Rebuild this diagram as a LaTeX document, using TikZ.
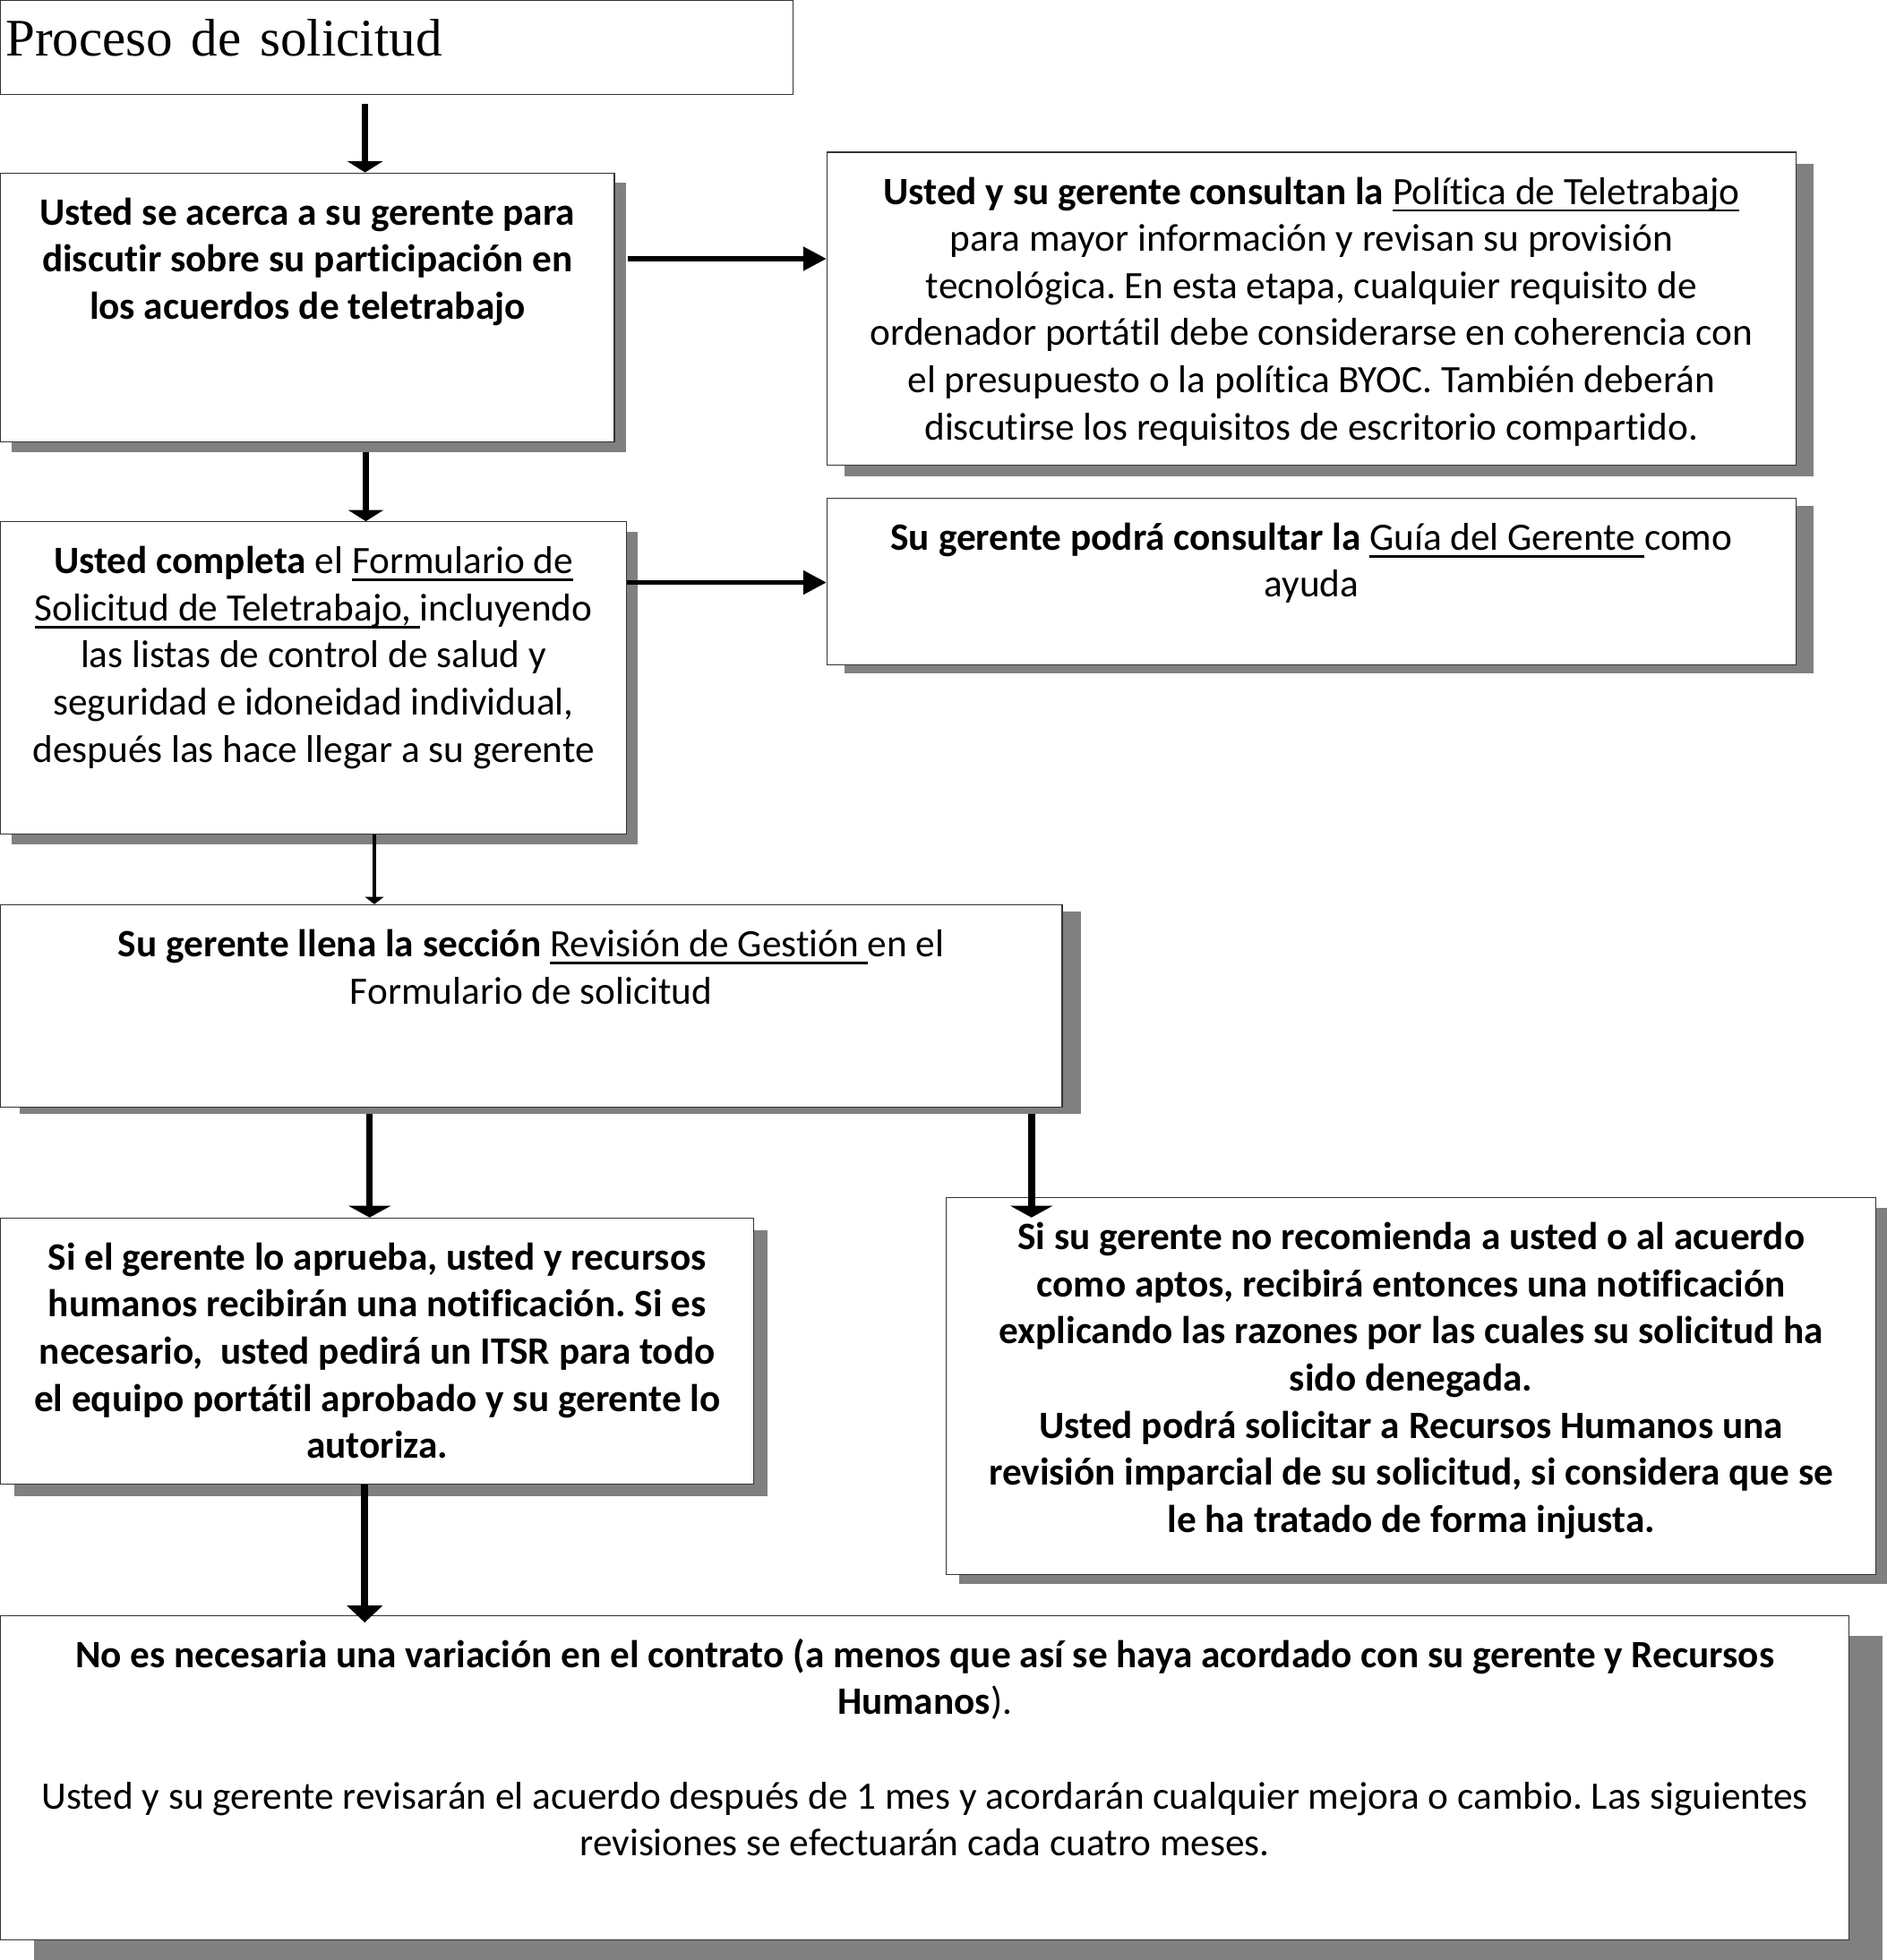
\documentclass[tikz,border=0pt]{standalone}
\usepackage{fontspec}
\setmainfont{Carlito}[Ligatures={NoCommon}]
\newfontfamily\titlefont{Liberation Serif}
\usetikzlibrary{arrows.meta,shadows}
\frenchspacing

% texto subrayado (la raya pasa tambien bajo el espacio final)
\newcommand{\subr}[1]{\leavevmode\setbox0\hbox{#1}\rlap{\rule[-6pt]{\wd0}{2pt}}\box0}
% caja de ancho #1 y alto #2, texto centrado arriba
\newcommand{\cajatexto}[3]{\parbox[t][#2][t]{#1}{\centering\rule{0pt}{41.5pt}#3}}

\begin{document}
\begin{tikzpicture}[x=1pt,y=-1pt,
	caja/.style={draw=black!80, line width=0.9pt, fill=white, inner sep=0pt, anchor=north west, font=\fontsize{31pt}{37.7pt}\selectfont},
	sombra/.style 2 args={drop shadow={shadow xshift=#1pt, shadow yshift=-#2pt, fill=black!50, opacity=1}},
	flecha/.style={line width=5.4pt, -{Triangle[width=28pt,length=9pt]}},
	flechaancha/.style={line width=5.4pt, -{Triangle[width=34pt,length=9.5pt]}},
	flechalarga/.style={line width=5.6pt, -{Triangle[width=28pt,length=13.6pt]}},
	flechafina/.style={line width=2.5pt, -{Triangle[width=15pt,length=6pt]}},
	flechalado/.style={line width=3.8pt, -{Triangle[width=18.6pt,length=18.6pt]}}]
	\useasboundingbox (0,0) rectangle (1509,1568);

	\node[caja, line width=0.8pt, font=\titlefont\fontsize{42.3pt}{50pt}\selectfont] (titulo) at (0,0) {\parbox[t][75pt][t]{634pt}{\spaceskip=14.8pt\hspace*{4.2pt}\rule{0pt}{44.2pt}Proceso de solicitud}};

	\node[caja, sombra={9}{8}] (acerca) at (0,138) {\cajatexto{491pt}{215pt}{\bfseries Usted se acerca a su gerente para\\ discutir sobre su participación en\\ los acuerdos de teletrabajo}};
	\node[caja, sombra={14}{9}] (consulta) at (661,121.4) {\cajatexto{775pt}{250.3pt}{\textbf{Usted y su gerente consultan la} \subr{Política de Teletrabajo}\\ para mayor información y revisan su provisión\\ tecnológica. En esta etapa, cualquier requisito de\\ ordenador portátil debe considerarse en coherencia con\\ el presupuesto o la política BYOC. También deberán\\ discutirse los requisitos de escritorio compartido.}};
	\node[caja, sombra={14}{6.5}] (guia) at (661,398) {\cajatexto{775pt}{133.4pt}{\textbf{Su gerente podrá consultar la} \subr{Guía del Gerente }como\\ ayuda}};
	\node[caja, sombra={9}{8}] (completa) at (0,417) {\cajatexto{500.7pt}{250pt}{\textbf{Usted completa} el \subr{Formulario de}\\ \subr{Solicitud de Teletrabajo, }incluyendo\\ las listas de control de salud y\\ seguridad e idoneidad individual,\\ después las hace llegar a su gerente}};
	\node[caja, sombra={15}{5}] (revision) at (0,723.4) {\cajatexto{849pt}{162pt}{\textbf{Su gerente llena la sección} \subr{Revisión de Gestión }en el\\ Formulario de solicitud}};
	\node[caja, sombra={11}{9.5}] (aprueba) at (0,974) {\cajatexto{602.4pt}{212.7pt}{\bfseries Si el gerente lo aprueba, usted y recursos\\ humanos recibirán una notificación. Si es\\ necesario,\ \ usted pedirá un ITSR para todo\\ el equipo portátil aprobado y su gerente lo\\ autoriza.}};
	\node[caja, sombra={10}{8}] (deniega) at (756.4,957.7) {\cajatexto{743.6pt}{301.3pt}{\bfseries Si su gerente no recomienda a usted o al acuerdo\\ como aptos, recibirá entonces una notificación\\ explicando las razones por las cuales su solicitud ha\\ sido denegada.\\ Usted podrá solicitar a Recursos Humanos una\\ revisión imparcial de su solicitud, si considera que se\\ le ha tratado de forma injusta.}};
	\node[caja, sombra={27}{16}] (final) at (0,1292) {\cajatexto{1478.5pt}{259.6pt}{{\bfseries No es necesaria una variación en el contrato (a menos que así se haya acordado con su gerente y Recursos\\ Humanos}).\\[37.7pt] Usted y su gerente revisarán el acuerdo después de 1 mes y acordarán cualquier mejora o cambio. Las siguientes\\ revisiones se efectuarán cada cuatro meses.}};

	\coordinate (acerca-der) at ([xshift=10pt,yshift=-69pt]acerca.north east);
	\coordinate (completa-der) at ([yshift=-49pt]completa.north east);

	\draw[flecha] ([xshift=292pt,yshift=-7pt]titulo.south west) -- ([xshift=292pt]acerca.north west);
	\draw[flecha] ([xshift=292.6pt,yshift=-8pt]acerca.south west) -- ([xshift=292.6pt]completa.north west);
	\draw[flechafina] ([xshift=299.4pt]completa.south west) -- ([xshift=299.4pt]revision.north west);
	\draw[flechaancha] ([xshift=295.6pt,yshift=-4.6pt]revision.south west) -- ([xshift=295.6pt]aprueba.north west);
	\draw[flechaancha] ([xshift=825pt,yshift=-4.6pt]revision.south west) -- ([xshift=68.6pt,yshift=-16.3pt]deniega.north west);
	\draw[flechalarga] ([xshift=291.7pt]aprueba.south west) -- ([xshift=291.7pt,yshift=-6pt]final.north west);
	\draw[flechalado] (acerca-der) -- (acerca-der -| consulta.west);
	\draw[flechalado] (completa-der) -- (completa-der -| guia.west);
\end{tikzpicture}
\end{document}
